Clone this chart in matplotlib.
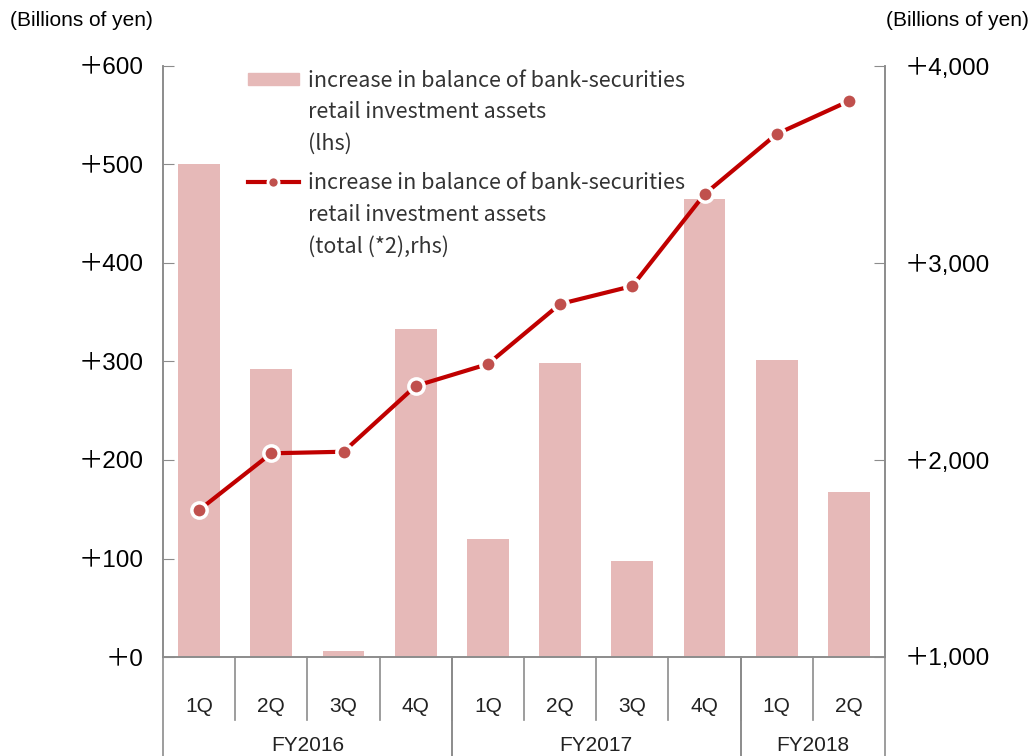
import matplotlib
matplotlib.use("Agg")
import matplotlib.pyplot as plt
from matplotlib.patches import Patch
from matplotlib.lines import Line2D

# data
quarters = ['1Q', '2Q', '3Q', '4Q', '1Q', '2Q', '3Q', '4Q', '1Q', '2Q']
years = ['FY2016', 'FY2017', 'FY2018']
year_sizes = [4, 4, 2]
bar_values = [501, 292, 6, 333, 120, 298, 97, 465, 302, 168]
total_values = [1746, 2034, 2042, 2376, 2487, 2792, 2883, 3349, 3655, 3822]

left_ticks = [0, 100, 200, 300, 400, 500, 600]
right_ticks = [1000, 2000, 3000, 4000]

bar_color = '#E6B9B8'
line_color = '#C00000'
marker_color = '#C0504D'
axis_color = '#8C8C8C'
num_font = ['Liberation Sans', 'Noto Sans CJK JP']
jp_font = ['Noto Sans CJK JP', 'DejaVu Sans']

fig = plt.figure(figsize=(10.31, 7.56), dpi=100)
ax = fig.add_axes([163 / 1031, 99 / 756, 722 / 1031, 591 / 756])
ax2 = ax.twinx()

x = list(range(len(quarters)))
ax.bar(x, bar_values, width=0.58, color=bar_color, zorder=2)
ax2.plot(x, total_values, color=line_color, lw=3, marker='o', ms=11,
         mfc=marker_color, mec='white', mew=2.5, zorder=3)

ax.set_xlim(-0.5, len(quarters) - 0.5)
ax.set_ylim(0, 600)
ax2.set_ylim(1000, 4000)

ax.set_yticks(left_ticks)
ax.set_yticklabels(['＋{:,}'.format(v) for v in left_ticks], family=num_font, fontsize=17.5)
ax2.set_yticks(right_ticks)
ax2.set_yticklabels(['＋{:,}'.format(v) for v in right_ticks], family=num_font, fontsize=17.5)
ax.tick_params(axis='y', direction='in', length=8, color=axis_color, pad=14)
ax2.tick_params(axis='y', direction='in', length=8, color=axis_color, pad=14)

for a in (ax, ax2):
    a.spines['top'].set_visible(False)
    for s in ('left', 'right', 'bottom'):
        a.spines[s].set_color(axis_color)
        a.spines[s].set_linewidth(1.2)

# two-level category axis
ax.set_xticks(x)
ax.set_xticklabels([])
ax.tick_params(axis='x', length=0)
trans = ax.get_xaxis_transform()
for i, q in enumerate(quarters):
    ax.text(i, -0.083, q, transform=trans, ha='center', va='center',
            family=num_font, fontsize=15, color='#222222')
for k in range(1, len(quarters)):
    ax.plot([k - 0.5, k - 0.5], [0, -0.107], transform=trans, color=axis_color,
            lw=1.2, clip_on=False)
start = 0
for name, n in zip(years, year_sizes):
    ax.text(start + (n - 1) / 2, -0.149, name, transform=trans, ha='center', va='center',
            family=num_font, fontsize=15, color='#222222')
    for edge in (start - 0.5, start + n - 0.5):
        ax.plot([edge, edge], [0, -0.2], transform=trans, color=axis_color,
                lw=1.2, clip_on=False)
    start += n

fig.text(10 / 1031, 1 - 20 / 756, '(Billions of yen)', ha='left', va='center',
         family=num_font, fontsize=15)
fig.text(1029 / 1031, 1 - 20 / 756, '(Billions of yen)', ha='right', va='center',
         family=num_font, fontsize=15)

# legends: handle beside the first line of each entry
blank = Patch(visible=False)
leg_kw = dict(loc='upper left', frameon=False, prop={'family': jp_font, 'size': 15.5},
              handlelength=2.4, handleheight=0.5, handletextpad=0.4,
              labelspacing=0.45, borderaxespad=0)
leg1 = ax2.legend([Patch(color=bar_color), blank, blank],
                  ['increase in balance of bank-securities', 'retail investment assets', '(lhs)'],
                  bbox_to_anchor=(76 / 722, 1.0085), **leg_kw)
ax2.add_artist(leg1)
line_handle = Line2D([], [], color=line_color, lw=3, marker='o', ms=8,
                     mfc=marker_color, mec='white', mew=2)
leg2 = ax2.legend([line_handle, blank, blank],
                  ['increase in balance of bank-securities', 'retail investment assets',
                   '(total (*2),rhs)'],
                  bbox_to_anchor=(76 / 722, 0.835), **leg_kw)
for lg in (leg1, leg2):
    for t in lg.get_texts():
        t.set_color('#333333')

fig.savefig('out.png', dpi=100)
